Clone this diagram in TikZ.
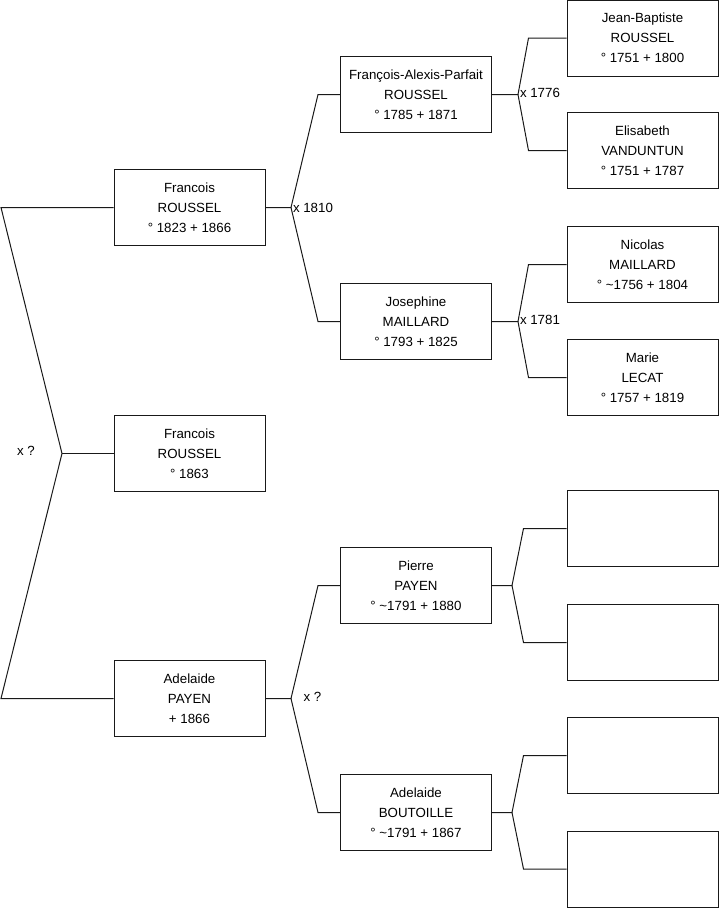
\documentclass[tikz,border=0pt]{standalone}
\usepackage{fontspec}
\setmainfont{Liberation Sans}
\usetikzlibrary{positioning}

\begin{document}
\begin{tikzpicture}[x=1pt, y=-1pt, line width=1pt, black!90,
    person/.style={draw, minimum width=151pt, minimum height=76pt, inner sep=0pt, align=center, font=\fontsize{13.3}{20}\selectfont, text=black},
    union/.style={anchor=west, inner sep=0pt, font=\fontsize{13.3}{16}\selectfont, text=black}]
    \useasboundingbox (0,0) rectangle (719,908);

    % Generation 1
    \node[person] (fr)  at (189.5,207.5) {Francois\\ROUSSEL\\° 1823 + 1866};
    \node[person] (fr2) at (189.5,453.5) {Francois\\ROUSSEL\\° 1863};
    \node[person] (ad)  at (189.5,698.5) {Adelaide\\PAYEN\\ + 1866};

    % Generation 2
    \node[person] (fap) at (416,94.5)  {François-Alexis-Parfait\\ROUSSEL\\° 1785 + 1871};
    \node[person] (jo)  at (416,321.5) {Josephine\\MAILLARD\\° 1793 + 1825};
    \node[person] (pi)  at (416,585.5) {Pierre\\PAYEN\\° \textasciitilde1791 + 1880};
    \node[person] (ab)  at (416,812.5) {Adelaide\\BOUTOILLE\\° \textasciitilde1791 + 1867};

    % Generation 3
    \node[person] (jb) at (642.5,38)   {Jean-Baptiste\\ROUSSEL\\° 1751 + 1800};
    \node[person] (el) at (642.5,150.5) {Elisabeth\\VANDUNTUN\\° 1751 + 1787};
    \node[person] (ni) at (642.5,264.5) {Nicolas\\MAILLARD\\° \textasciitilde1756 + 1804};
    \node[person] (ma) at (642.5,377.5) {Marie\\LECAT\\° 1757 + 1819};
    \node[person] (e1) at (642.5,528.5) {};
    \node[person] (e2) at (642.5,642.5) {};
    \node[person] (e3) at (642.5,755.5) {};
    \node[person] (e4) at (642.5,869)   {};

    % Fork points
    \coordinate (k0) at (62,453.5);
    \coordinate (k1) at (291,207.5);
    \coordinate (k2) at (291,698.5);
    \coordinate (k3) at (518,94.5);
    \coordinate (k4) at (518,321.5);
    \coordinate (k5) at (512,585.5);
    \coordinate (k6) at (512,812.5);

    % Links
    \draw (fr.west) -- (fr.west -| 1,0) -- (k0) -- (ad.west -| 1,0) -- (ad.west);
    \draw (k0) -- (fr2.west);
    \node[union, anchor=center] at (26,451) {x ?};

    \draw (fr.east) -- (k1) -- ([xshift=-22pt]fap.west) -- (fap.west);
    \draw (k1) -- ([xshift=-22pt]jo.west) -- (jo.west);
    \node[union] at (292.5,207.5) {x 1810};

    \draw (ad.east) -- (k2) -- ([xshift=-22pt]pi.west) -- (pi.west);
    \draw (k2) -- ([xshift=-22pt]ab.west) -- (ab.west);
    \node[union] at (303,697) {x ?};

    \draw (fap.east) -- (k3) -- ([xshift=-38pt]jb.west) -- (jb.west);
    \draw (k3) -- ([xshift=-38pt]el.west) -- (el.west);
    \node[union] at (519.5,92.5) {x 1776};

    \draw (jo.east) -- (k4) -- ([xshift=-38pt]ni.west) -- (ni.west);
    \draw (k4) -- ([xshift=-38pt]ma.west) -- (ma.west);
    \node[union] at (519.5,319.5) {x 1781};

    \draw (pi.east) -- (k5) -- ([xshift=-43pt]e1.west) -- (e1.west);
    \draw (k5) -- ([xshift=-43pt]e2.west) -- (e2.west);

    \draw (ab.east) -- (k6) -- ([xshift=-43pt]e3.west) -- (e3.west);
    \draw (k6) -- ([xshift=-43pt]e4.west) -- (e4.west);
\end{tikzpicture}
\end{document}
